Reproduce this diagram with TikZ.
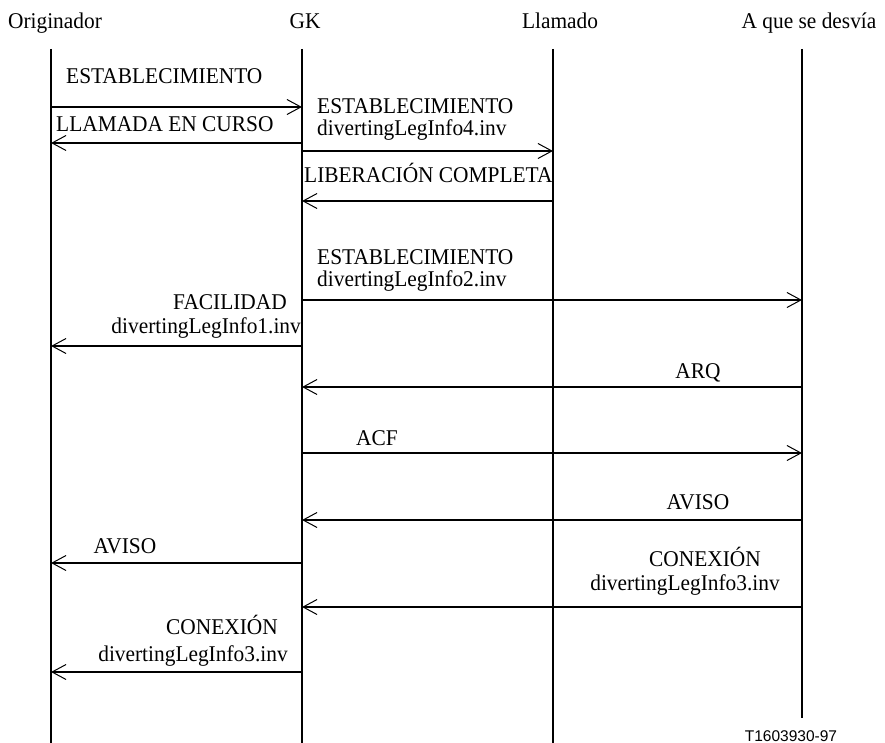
\documentclass[tikz,border=0pt]{standalone}
\usepackage{fontspec}
\setmainfont{Liberation Serif}[FakeStretch=0.95]
\newfontfamily\labelsans{Liberation Sans}
\usetikzlibrary{arrows.meta}
\begin{document}
\begin{tikzpicture}[x=1pt,y=-1pt,
  lifeline/.style={line width=2.2pt},
  msg/.style={line width=2.2pt,-{Straight Barb[length=14pt,width=15pt,line width=1pt]}},
  txt/.style={inner sep=0pt,font=\fontsize{22.5}{22.5}\selectfont},
  head/.style={txt,anchor=base},
]
\useasboundingbox (0,0) rectangle (885,743);

% lifeline tops and bottoms
\coordinate (oT) at (51,49);  \coordinate (oB) at (51,743);
\coordinate (gT) at (302,49); \coordinate (gB) at (302,743);
\coordinate (lT) at (553,49); \coordinate (lB) at (553,743);
\coordinate (aT) at (802,49); \coordinate (aB) at (802,718);

% headers
\node[head] (hO) at (55,29) {Originador};
\node[head] (hG) at (305,29) {GK};
\node[head] (hL) at (560,29) {Llamado};
\node[head] (hA) at (809,29) {A que se desvía};

\draw[lifeline] (oT) -- (oB);
\draw[lifeline] (gT) -- (gB);
\draw[lifeline] (lT) -- (lB);
\draw[lifeline] (aT) -- (aB);

% message rows
\coordinate (m1) at (0,107);
\coordinate (m2) at (0,143);
\coordinate (m3) at (0,151);
\coordinate (m4) at (0,201);
\coordinate (m5) at (0,300);
\coordinate (m6) at (0,346);
\coordinate (m7) at (0,387);
\coordinate (m8) at (0,453);
\coordinate (m9) at (0,520);
\coordinate (m10) at (0,563);
\coordinate (m11) at (0,607);
\coordinate (m12) at (0,672);

\draw[msg] (m1 -| oT) -- (m1 -| gT);
\draw[msg] (m2 -| gT) -- (m2 -| oT);
\draw[msg] (m3 -| gT) -- (m3 -| lT);
\draw[msg] (m4 -| lT) -- (m4 -| gT);
\draw[msg] (m5 -| gT) -- (m5 -| aT);
\draw[msg] (m6 -| gT) -- (m6 -| oT);
\draw[msg] (m7 -| aT) -- (m7 -| gT);
\draw[msg] (m8 -| gT) -- (m8 -| aT);
\draw[msg] (m9 -| aT) -- (m9 -| gT);
\draw[msg] (m10 -| gT) -- (m10 -| oT);
\draw[msg] (m11 -| aT) -- (m11 -| gT);
\draw[msg] (m12 -| gT) -- (m12 -| oT);

% message labels
\node[txt,anchor=base west] (t1) at (66,84) {ESTABLECIMIENTO};
\node[txt,anchor=base west] (t2) at (56,132) {LLAMADA EN CURSO};
\node[txt,anchor=base west] (t3a) at (317,114) {ESTABLECIMIENTO};
\node[txt,anchor=base west] (t3b) at (317,136) {divertingLegInfo4.inv};
\node[txt,anchor=base west] (t4) at (304,183) {LIBERACIÓN COMPLETA};
\node[txt,anchor=base west] (t5a) at (317,264) {ESTABLECIMIENTO};
\node[txt,anchor=base west] (t5b) at (317,286) {divertingLegInfo2.inv};
\node[txt,anchor=base east] (t6a) at (287,309) {FACILIDAD};
\node[txt,anchor=base east] (t6b) at (301,333) {divertingLegInfo1.inv};
\node[txt,anchor=base] (t7) at (698,378) {ARQ};
\node[txt,anchor=base] (t8) at (377,445) {ACF};
\node[txt,anchor=base] (t9) at (698,509) {AVISO};
\node[txt,anchor=base] (t10) at (125,553) {AVISO};
\node[txt,anchor=base] (t11a) at (705,566) {CONEXIÓN};
\node[txt,anchor=base] (t11b) at (685,590) {divertingLegInfo3.inv};
\node[txt,anchor=base] (t12a) at (222,634) {CONEXIÓN};
\node[txt,anchor=base] (t12b) at (193,661) {divertingLegInfo3.inv};

\node[inner sep=0pt,anchor=base,font=\labelsans\fontsize{15.5}{15.5}\selectfont] (ref) at (791,741) {T1603930-97};
\end{tikzpicture}
\end{document}
